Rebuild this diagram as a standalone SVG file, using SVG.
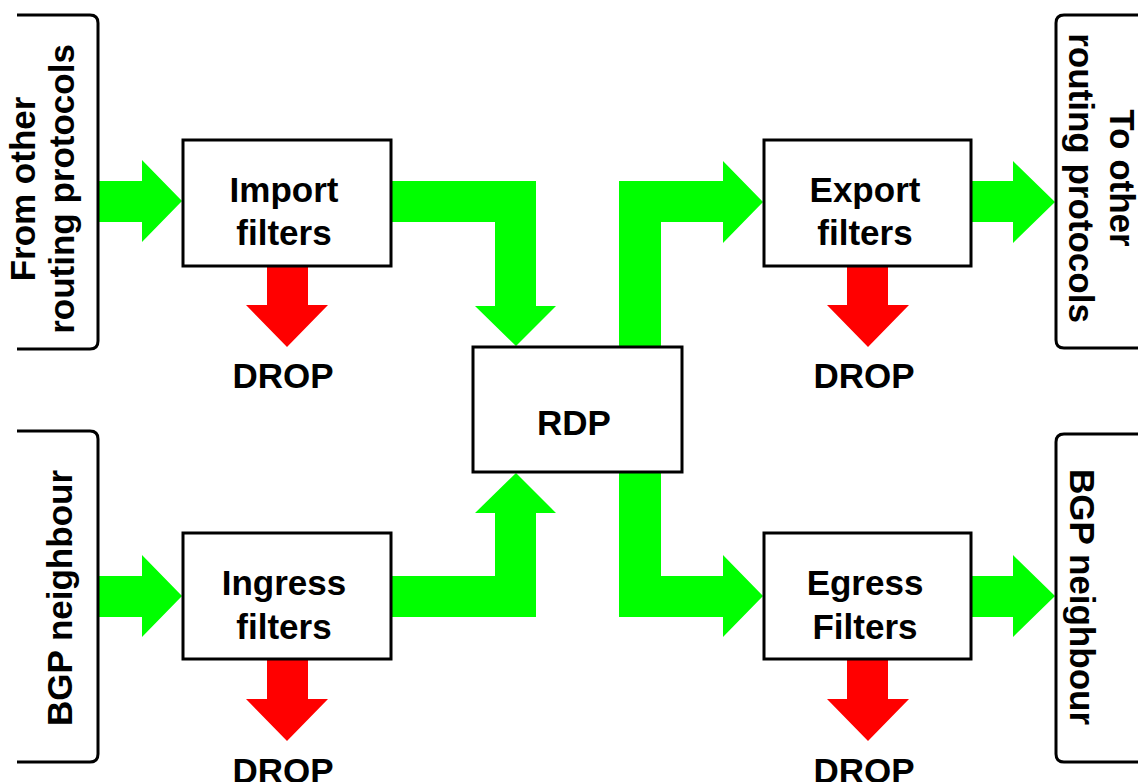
<svg xmlns="http://www.w3.org/2000/svg" width="1143" height="782" viewBox="0 0 1143 782">
  <style>
    .box { fill: #ffffff; stroke: #000000; stroke-width: 3; }
    .bracket { fill: none; stroke: #000000; stroke-width: 3; stroke-linejoin: round; }
    .flow { fill: #00ff00; stroke: none; }
    .drop { fill: #ff0000; stroke: none; }
    .lbl { font-family: "Liberation Sans", Arial, Helvetica, sans-serif; font-weight: bold; font-size: 35px; fill: #000000; text-anchor: middle; }
  </style>
  <rect x="0" y="0" width="1143" height="782" fill="#ffffff"/>

  <!-- Route flows and drop paths -->
  <g id="connectors">
    <polygon class="flow" points="99,181 142,181 142,160 182,201 142,242 142,222 99,222"/>
    <polygon class="flow" points="392,181 536,181 536,306 556,306 516,346 475,306 495,306 495,222 392,222"/>
    <polygon class="flow" points="619,347 619,181 723,181 723,161 763,202 723,243 723,222 661,222 661,347"/>
    <polygon class="flow" points="971,181 1013,181 1013,161 1055,202 1013,243 1013,222 971,222"/>
    <polygon class="flow" points="99,576 142,576 142,555 182,596 142,637 142,617 99,617"/>
    <polygon class="flow" points="392,576 495,576 495,513 475,513 516,473 556,513 536,513 536,617 392,617"/>
    <polygon class="flow" points="619,472 661,472 661,576 723,576 723,555 763,596 723,637 723,617 619,617"/>
    <polygon class="flow" points="971,576 1013,576 1013,555 1055,596 1013,637 1013,617 971,617"/>

    <polygon class="drop" points="267,265 308,265 308,305 328,305 287,347 246,305 267,305"/>
    <polygon class="drop" points="847,265 888,265 888,305 909,305 868,347 827,305 847,305"/>
    <polygon class="drop" points="267,659 308,659 308,699 328,699 287,741 246,699 267,699"/>
    <polygon class="drop" points="847,659 888,659 888,699 909,699 868,741 827,699 847,699"/>
  </g>

  <!-- Sources on the left -->
  <g id="src-protocols">
    <path class="bracket" d="M17,15 H90 Q98,15 98,23 V341 Q98,349 90,349 H17"/>
    <text class="lbl" transform="translate(35,189) rotate(-90)">From other</text>
    <text class="lbl" transform="translate(74,189) rotate(-90)">routing protocols</text>
  </g>
  <g id="src-bgp">
    <path class="bracket" d="M17,431 H90 Q98,431 98,439 V754 Q98,762 90,762 H17"/>
    <text class="lbl" transform="translate(72,598) rotate(-90)">BGP neighbour</text>
  </g>

  <!-- Destinations on the right -->
  <g id="dst-protocols">
    <path class="bracket" d="M1138,15 H1064 Q1056,15 1056,23 V340 Q1056,348 1064,348 H1138"/>
    <text class="lbl" transform="translate(1110,178) rotate(90)">To other</text>
    <text class="lbl" transform="translate(1069,178) rotate(90)">routing protocols</text>
  </g>
  <g id="dst-bgp">
    <path class="bracket" d="M1138,434 H1064 Q1056,434 1056,442 V754 Q1056,762 1064,762 H1138"/>
    <text class="lbl" transform="translate(1070,597) rotate(90)">BGP neighbour</text>
  </g>

  <!-- Filter stages -->
  <g id="import-filters">
    <rect class="box" x="183" y="140" width="208" height="126"/>
    <text class="lbl" x="284" y="202">Import</text>
    <text class="lbl" x="284" y="245">filters</text>
  </g>
  <g id="export-filters">
    <rect class="box" x="764" y="140" width="207" height="126"/>
    <text class="lbl" x="865" y="202">Export</text>
    <text class="lbl" x="865" y="245">filters</text>
  </g>
  <g id="ingress-filters">
    <rect class="box" x="183" y="533" width="208" height="126"/>
    <text class="lbl" x="284" y="595">Ingress</text>
    <text class="lbl" x="284" y="639">filters</text>
  </g>
  <g id="egress-filters">
    <rect class="box" x="764" y="533" width="207" height="126"/>
    <text class="lbl" x="865" y="595">Egress</text>
    <text class="lbl" x="865" y="639">Filters</text>
  </g>
  <g id="rdp">
    <rect class="box" x="473" y="347" width="209" height="125"/>
    <text class="lbl" x="574" y="435">RDP</text>
  </g>

  <!-- Discard labels -->
  <g id="drop-import"><text class="lbl" x="283" y="388">DROP</text></g>
  <g id="drop-export"><text class="lbl" x="864" y="388">DROP</text></g>
  <g id="drop-ingress"><text class="lbl" x="283" y="783">DROP</text></g>
  <g id="drop-egress"><text class="lbl" x="864" y="783">DROP</text></g>
</svg>
